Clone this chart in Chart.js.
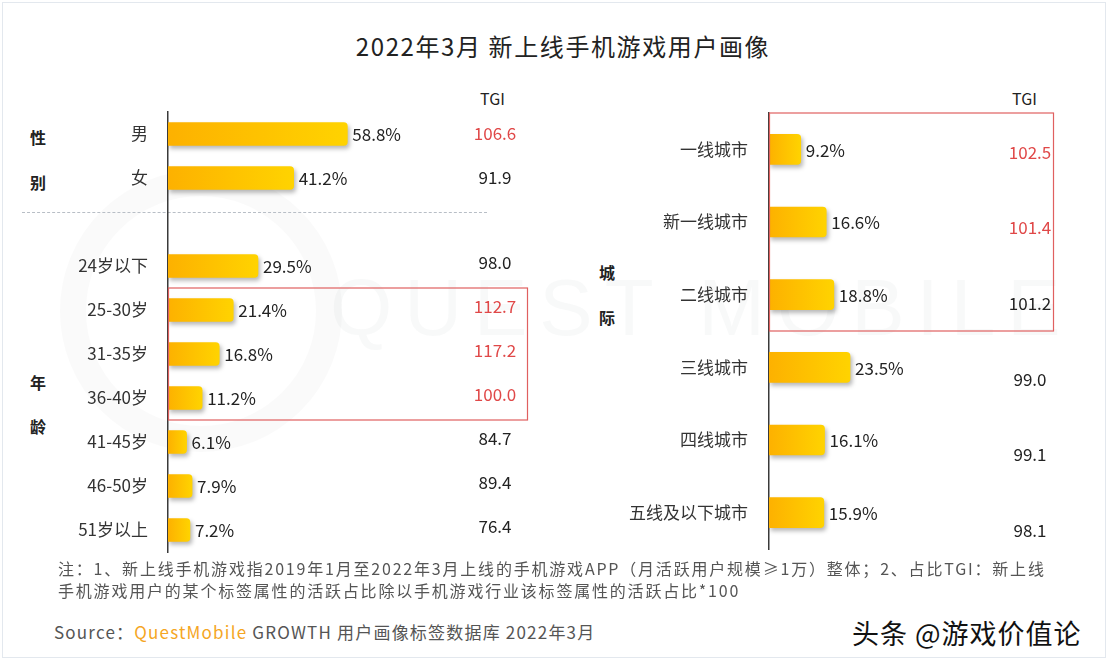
<!DOCTYPE html>
<html>
<head>
<meta charset="utf-8">
<script src="https://cdn.jsdelivr.net/npm/chart.js@4.4.0/dist/chart.umd.min.js"></script>
<style>
  html, body { margin: 0; padding: 0; background: #fff; }
  body { width: 1108px; height: 664px; position: relative; overflow: hidden;
         font-family: "Noto Sans CJK SC", "Noto Sans", sans-serif; color: #333; }
  .frame { position: absolute; left: 2px; top: 2px; right: 2px; bottom: 6px; border: 1px solid #e3e8ee; }
  .abs { position: absolute; white-space: nowrap; }
  #title { left: 9px; width: 1108px; top: 28px; text-align: center; font-size: 24px; letter-spacing: 1.6px; color: #222; }
  .tgiHead { font-size: 16px; color: #222; }
  .group { font-size: 16px; font-weight: bold; color: #222; }
  .note { left: 58px; font-size: 16px; letter-spacing: 1.8px; color: #555; }
  #source { left: 54px; top: 619px; font-size: 17px; letter-spacing: 1.2px; color: #555; }
  #source .qm { color: #F5A623; }
  #mark { left: 852px; top: 613px; font-size: 27px; letter-spacing: 1px; color: #111; }
  #wm { left: 330px; top: 262px; font-size: 80px; letter-spacing: 12px; color: rgba(120,130,140,0.05); font-family: "Liberation Sans", sans-serif; }
  .ring { position: absolute; left: 60px; top: 170px; width: 230px; height: 230px; border-radius: 50%;
          border: 26px solid rgba(120,130,140,0.04); }
  .chartBox { position: absolute; }
</style>
</head>
<body>
<div class="frame"></div>
<div class="ring"></div>
<div class="abs" id="wm">QUEST MOBILE</div>

<div class="abs" id="title">2022年3月 新上线手机游戏用户画像</div>

<div class="abs tgiHead" style="left:480px; top:86px;">TGI</div>
<div class="abs tgiHead" style="left:1012px; top:86px;">TGI</div>

<div class="abs group" style="left:30px; top:125px;">性</div>
<div class="abs group" style="left:30px; top:170px;">别</div>
<div class="abs group" style="left:30px; top:370px;">年</div>
<div class="abs group" style="left:30px; top:414px;">龄</div>
<div class="abs group" style="left:599px; top:260px;">城</div>
<div class="abs group" style="left:599px; top:305px;">际</div>

<div class="abs" style="left:22px; top:212px; width:465px; border-top:1px dashed #b8bec6;"></div>

<div class="chartBox" style="left:0; top:100px; width:560px; height:460px;"><canvas id="chartLeft" width="560" height="460"></canvas></div>
<div class="chartBox" style="left:580px; top:100px; width:528px; height:460px;"><canvas id="chartRight" width="528" height="460"></canvas></div>

<div class="abs note" style="top:556px;">注：1、新上线手机游戏指2019年1月至2022年3月上线的手机游戏APP（月活跃用户规模≥1万）整体；2、占比TGI：新上线</div>
<div class="abs note" style="top:578px;">手机游戏用户的某个标签属性的活跃占比除以手机游戏行业该标签属性的活跃占比*100</div>
<div class="abs" id="source">Source：<span class="qm">QuestMobile</span> GROWTH 用户画像标签数据库 2022年3月</div>
<div class="abs" id="mark">头条 @游戏价值论</div>

<script>
// ---- data ----
const leftLabels = ['男', '女', '', '24岁以下', '25-30岁', '31-35岁', '36-40岁', '41-45岁', '46-50岁', '51岁以上'];
const leftShare  = [58.8, 41.2, null, 29.5, 21.4, 16.8, 11.2, 6.1, 7.9, 7.2];
const leftTgi    = [106.6, 91.9, null, 98.0, 112.7, 117.2, 100.0, 84.7, 89.4, 76.4];

const rightLabels = ['一线城市', '新一线城市', '二线城市', '三线城市', '四线城市', '五线及以下城市'];
const rightShare  = [9.2, 16.6, 18.8, 23.5, 16.1, 15.9];
const rightTgi    = [102.5, 101.4, 101.2, 99.0, 99.1, 98.1];

// rows highlighted in red / boxed
const leftRed  = [0, 4, 5, 6];
const rightRed = [0, 1];
const leftBox  = [4, 6];
const rightBox = [0, 2];

const FONT = '"Noto Sans CJK SC", "Noto Sans", sans-serif';
const RED = '#E04848';

function barFill(ctx) {
    const chart = ctx.chart;
    const ca = chart.chartArea;
    if (!ca || ctx.raw == null) return '#FFC000';
    const xEnd = chart.scales.x.getPixelForValue(ctx.raw);
    const g = chart.ctx.createLinearGradient(ca.left, 0, Math.max(xEnd, ca.left + 1), 0);
    g.addColorStop(0, '#FDB100');
    g.addColorStop(1, '#FFD300');
    return g;
}

// shadow + value labels + TGI column + red box
function makeDecor(tgi, redRows, boxRows, tgiX, boxRight, tgiDy) {
    return {
        id: 'decor',
        beforeDatasetsDraw(chart) {
            const c = chart.ctx;
            c.save();
            c.shadowColor = 'rgba(0,0,0,0.28)';
            c.shadowBlur = 4;
            c.shadowOffsetX = 2;
            c.shadowOffsetY = 3;
        },
        afterDatasetsDraw(chart) {
            const c = chart.ctx;
            c.restore();
            const meta = chart.getDatasetMeta(0);
            const yScale = chart.scales.y;
            const data = chart.data.datasets[0].data;
            c.save();
            c.textBaseline = 'middle';
            c.font = '17px ' + FONT;
            meta.data.forEach((el, i) => {
                if (data[i] == null) return;
                c.fillStyle = '#222';
                c.textAlign = 'left';
                c.fillText(data[i].toFixed(1) + '%', el.x + 5, el.y + 1);
                c.textAlign = 'center';
                c.fillStyle = redRows.includes(i) ? RED : '#222';
                c.fillText(tgi[i].toFixed(1), tgiX, yScale.getPixelForValue(i) + tgiDy(i));
            });
            // red box round highlighted rows
            const half = (yScale.getPixelForValue(1) - yScale.getPixelForValue(0)) / 2;
            const top = yScale.getPixelForValue(boxRows[0]) - half;
            const bottom = yScale.getPixelForValue(boxRows[1]) + half;
            c.strokeStyle = '#E06060';
            c.lineWidth = 1.2;
            c.strokeRect(chart.chartArea.left + 0.5, top, boxRight - chart.chartArea.left, bottom - top);
            c.restore();
        }
    };
}

function makeChart(id, labels, share, opts) {
    return new Chart(document.getElementById(id), {
        type: 'bar',
        data: {
            labels: labels,
            datasets: [{
                data: share,
                backgroundColor: barFill,
                borderRadius: 4,
                borderSkipped: 'start',
                barThickness: opts.thick
            }]
        },
        options: {
            indexAxis: 'y',
            responsive: false,
            animation: false,
            layout: { padding: opts.padding },
            plugins: { legend: { display: false }, tooltip: { enabled: false } },
            scales: {
                x: { display: false, min: 0, max: opts.max },
                y: {
                    grid: { display: false },
                    border: { display: true, color: '#3a3a3a', width: 1.5 },
                    ticks: { color: '#333', padding: opts.tickPad, font: { size: 17, family: FONT } },
                    afterFit: s => { s.width = opts.axisW; s.paddingTop = 0; s.paddingBottom = 0; }
                }
            }
        },
        plugins: [opts.decor]
    });
}

makeChart('chartLeft', leftLabels, leftShare, {
    thick: 23, max: 120, axisW: 168, tickPad: 12,
    padding: { top: 12, bottom: 8, right: 26, left: 0 },
    decor: makeDecor(leftTgi, leftRed, leftBox, 495, 527, i => (i < 2 ? 0 : -3))
});

makeChart('chartRight', rightLabels, rightShare, {
    thick: 30, max: 80, axisW: 189, tickPad: 13,
    padding: { top: 13, bottom: 11, right: 63, left: 0 },
    decor: makeDecor(rightTgi, rightRed, rightBox, 450, 473, i => 3 + 3 * i)
});
</script>
</body>
</html>
